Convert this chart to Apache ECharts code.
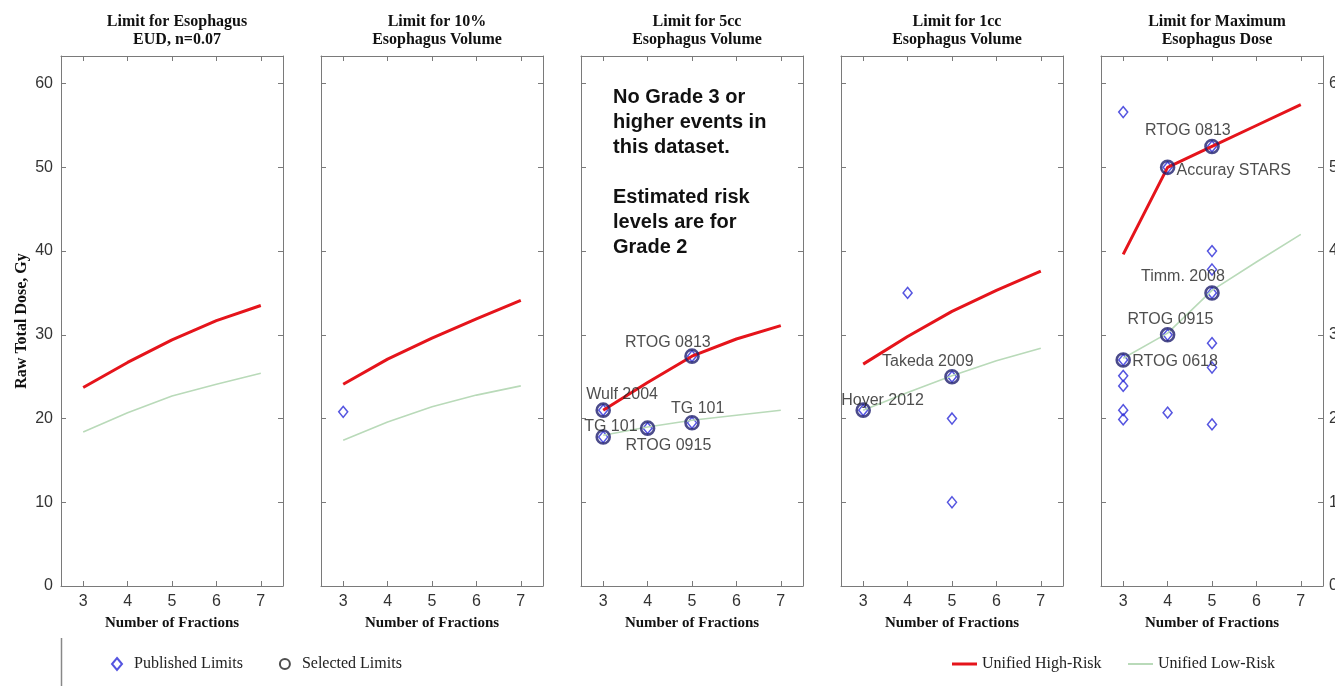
<!DOCTYPE html>
<html>
<head>
<meta charset="utf-8">
<script src="https://cdn.jsdelivr.net/npm/echarts@6/dist/echarts.min.js"></script>
<style>
  html, body { margin: 0; padding: 0; background: #ffffff; }
  #chart { width: 1335px; height: 686px; }
</style>
</head>
<body>
<div id="chart"></div>
<script>
// Number of fractions on the x axis and the tick values of both axes
const fractions = [3, 4, 5, 6, 7];
const xTickValues = [3, 4, 5, 6, 7];
const yTickValues = [0, 10, 20, 30, 40, 50, 60];

const panelTitles = [
  'Limit for Esophagus\nEUD, n=0.07',
  'Limit for 10%\nEsophagus Volume',
  'Limit for 5cc\nEsophagus Volume',
  'Limit for 1cc\nEsophagus Volume',
  'Limit for Maximum\nEsophagus Dose'
];

// Unified high- and low-risk dose limits (Gy) at 3..7 fractions
const highRiskEUD = [23.7, 26.7, 29.4, 31.7, 33.5];
const lowRiskEUD = [18.4, 20.7, 22.7, 24.1, 25.4];
const highRisk10pct = [24.1, 27.1, 29.6, 31.9, 34.1];
const lowRisk10pct = [17.4, 19.6, 21.4, 22.8, 23.9];
const highRisk5cc = [21.0, 24.3, 27.45, 29.5, 31.1];
const lowRisk5cc = [18.0, 19.0, 19.8, 20.4, 21.0];
const highRisk1cc = [26.5, 29.8, 32.8, 35.3, 37.6];
const lowRisk1cc = [21.0, 23.1, 25.1, 26.9, 28.4];
const highRiskMax = [39.6, 50.0, 52.5, 55.0, 57.5];
const lowRiskMax = [27.2, 30.2, 35.3, 38.7, 42.0];

// Published limits: [fractions, dose]
const publishedEUD = [];
const published10pct = [[3, 20.8]];
const published5cc = [[3, 21.0], [3, 17.8], [4, 18.85], [5, 19.5], [5, 27.45]];
const published1cc = [[3, 21.0], [4, 35.0], [5, 25.0], [5, 20.0], [5, 10.0]];
const publishedMax = [
  [3, 56.6], [3, 27.0], [3, 25.1], [3, 23.9], [3, 21.0], [3, 19.9],
  [4, 50.0], [4, 30.0], [4, 20.7],
  [5, 52.5], [5, 40.0], [5, 37.8], [5, 35.0], [5, 29.0], [5, 26.1], [5, 19.3]
];

// Selected limits with their source names
const selectedEUD = [];
const selectedEUDNames = [];
const selected10pct = [];
const selected10pctNames = [];
const selected5cc = [[3, 21.0], [3, 17.8], [4, 18.85], [5, 19.5], [5, 27.45]];
const selected5ccNames = ['Wulf 2004', 'TG 101', 'RTOG 0915', 'TG 101', 'RTOG 0813'];
const selected1cc = [[3, 21.0], [5, 25.0]];
const selected1ccNames = ['Hoyer 2012', 'Takeda 2009'];
const selectedMax = [[3, 27.0], [4, 30.0], [4, 50.0], [5, 35.0], [5, 52.5]];
const selectedMaxNames = ['RTOG 0618', 'RTOG 0915', 'Accuray STARS', 'Timm. 2008', 'RTOG 0813'];

// Where each source name sits relative to its marker (px)
const labelOffsets = [
  [],
  [],
  [[-17, -16], [-19, -10], [-22, 17], [-21, -14], [-67, -14]],
  [[-22, -10], [-70, -15]],
  [[9, 2], [-40, -15], [9, 3], [-71, -16], [-67, -16]]
];

const panels = [
  { high: highRiskEUD, low: lowRiskEUD, pub: publishedEUD, sel: selectedEUD, names: selectedEUDNames },
  { high: highRisk10pct, low: lowRisk10pct, pub: published10pct, sel: selected10pct, names: selected10pctNames },
  { high: highRisk5cc, low: lowRisk5cc, pub: published5cc, sel: selected5cc, names: selected5ccNames },
  { high: highRisk1cc, low: lowRisk1cc, pub: published1cc, sel: selected1cc, names: selected1ccNames },
  { high: highRiskMax, low: lowRiskMax, pub: publishedMax, sel: selectedMax, names: selectedMaxNames }
];

const SANS = '"Liberation Sans", Arial, sans-serif';
const SERIF = '"Liberation Serif", "Times New Roman", serif';
const FRAME = '#7a7a7a';
const RED = '#e5141b';
const GREEN = '#b9dab9';
const BLUE = '#2a2ad8';
const NAVY = '#1e1e6e';
const PANEL_LEFT = 61, PANEL_STEP = 260, PANEL_W = 222, PANEL_TOP = 56, PANEL_H = 530;
const Y_MAX = 63.3;

const grids = [], xAxes = [], yAxes = [], series = [], titles = [];

panels.forEach((p, i) => {
  const left = PANEL_LEFT + PANEL_STEP * i;
  grids.push({
    left: left, top: PANEL_TOP, width: PANEL_W, height: PANEL_H,
    show: false, containLabel: false, outerBoundsMode: 'none'
  });

  titles.push({
    text: panelTitles[i],
    left: left + PANEL_W / 2,
    top: 8,
    textAlign: 'center',
    textStyle: { fontFamily: SERIF, fontWeight: 'bold', fontSize: 16, lineHeight: 18, color: '#111' }
  });

  const frameLine = { show: true, onZero: false, lineStyle: { color: FRAME, width: 1 } };
  const tickIn = (vals) => ({ show: true, inside: true, length: 5, lineStyle: { color: FRAME }, customValues: vals });

  // bottom and top x axes
  xAxes.push({
    gridIndex: i, type: 'value', position: 'bottom', min: 2.5, max: 7.5,
    axisLine: frameLine, axisTick: tickIn(xTickValues), splitLine: { show: false },
    axisLabel: { show: true, customValues: xTickValues, margin: 8, fontFamily: SANS, fontSize: 16, color: '#333' },
    name: 'Number of Fractions', nameLocation: 'middle', nameGap: 30,
    nameTextStyle: { fontFamily: SERIF, fontWeight: 'bold', fontSize: 15, color: '#111' }
  });
  xAxes.push({
    gridIndex: i, type: 'value', position: 'top', min: 2.5, max: 7.5,
    axisLine: frameLine, axisTick: tickIn(xTickValues), splitLine: { show: false },
    axisLabel: { show: false }
  });

  // left and right y axes
  yAxes.push({
    gridIndex: i, type: 'value', position: 'left', min: 0, max: Y_MAX,
    axisLine: frameLine, axisTick: tickIn(yTickValues), splitLine: { show: false },
    axisLabel: { show: i === 0, customValues: yTickValues, margin: 8, fontFamily: SANS, fontSize: 16, color: '#333' },
    name: i === 0 ? 'Raw Total Dose, Gy' : '', nameLocation: 'middle', nameGap: 31, nameRotate: 90,
    nameTextStyle: { fontFamily: SERIF, fontWeight: 'bold', fontSize: 16, color: '#111' }
  });
  yAxes.push({
    gridIndex: i, type: 'value', position: 'right', min: 0, max: Y_MAX,
    axisLine: frameLine, axisTick: tickIn(yTickValues), splitLine: { show: false },
    axisLabel: { show: i === 4, customValues: yTickValues, margin: 6, fontFamily: SANS, fontSize: 16, color: '#333' }
  });

  const xa = i * 2, ya = i * 2;

  series.push({
    name: 'Published Limits', type: 'scatter', xAxisIndex: xa, yAxisIndex: ya,
    symbol: 'diamond', symbolSize: [9, 11], z: 3,
    itemStyle: { color: 'rgba(0,0,0,0)', borderColor: BLUE, borderWidth: 1.5 },
    data: p.pub
  });
  series.push({
    name: 'Unified High-Risk', type: 'line', xAxisIndex: xa, yAxisIndex: ya,
    symbol: 'none', z: 4,
    lineStyle: { color: RED, width: 3 }, itemStyle: { color: RED },
    data: fractions.map((f, k) => [f, p.high[k]])
  });
  series.push({
    name: 'Unified Low-Risk', type: 'line', xAxisIndex: xa, yAxisIndex: ya,
    symbol: 'none', z: 4,
    lineStyle: { color: GREEN, width: 1.6 }, itemStyle: { color: GREEN },
    data: fractions.map((f, k) => [f, p.low[k]])
  });
  series.push({
    name: 'Selected Limits', type: 'scatter', xAxisIndex: xa, yAxisIndex: ya,
    symbol: 'circle', symbolSize: 13, z: 5,
    itemStyle: { color: 'rgba(0,0,0,0)', borderColor: NAVY, borderWidth: 2.6 },
    label: {
      show: true, position: 'inside', align: 'left', verticalAlign: 'middle',
      formatter: '{b}', fontFamily: SANS, fontSize: 16, color: '#222'
    },
    data: p.sel.map((pt, k) => ({
      name: p.names[k],
      value: pt,
      label: { offset: labelOffsets[i][k] }
    }))
  });
});

const legendText = { fontFamily: SERIF, fontSize: 16, color: '#222' };

const option = {
  backgroundColor: '#ffffff',
  animation: false,
  title: titles,
  grid: grids,
  xAxis: xAxes,
  yAxis: yAxes,
  series: series,
  legend: [
    {
      left: 111, top: 656, padding: 0, itemWidth: 10, itemHeight: 12, itemGap: 36,
      selectedMode: false,
      textStyle: Object.assign({ padding: [0, 0, 0, 7] }, legendText),
      data: [
        { name: 'Published Limits' },
        { name: 'Selected Limits', itemStyle: { borderColor: '#222222' } }
      ]
    },
    {
      left: 952, top: 656, padding: 0, itemWidth: 25, itemHeight: 3, icon: 'rect',
      selectedMode: false, textStyle: legendText,
      data: ['Unified High-Risk']
    },
    {
      left: 1128, top: 656, padding: 0, itemWidth: 25, itemHeight: 2, icon: 'rect',
      selectedMode: false, textStyle: legendText,
      data: ['Unified Low-Risk']
    }
  ],
  graphic: [
    {
      type: 'text', left: 613, top: 85,
      style: {
        text: 'No Grade 3 or\nhigher events in\nthis dataset.\n\nEstimated risk\nlevels are for\nGrade 2',
        font: 'bold 20px "Liberation Sans", Arial, sans-serif',
        lineHeight: 25, fill: '#111'
      }
    },
    {
      type: 'line', shape: { x1: 61.5, y1: 638, x2: 61.5, y2: 686 },
      style: { stroke: '#888888', lineWidth: 1.5 }
    }
  ]
};

const chart = echarts.init(document.getElementById('chart'), null, { renderer: 'canvas' });
chart.setOption(option);
</script>
</body>
</html>
